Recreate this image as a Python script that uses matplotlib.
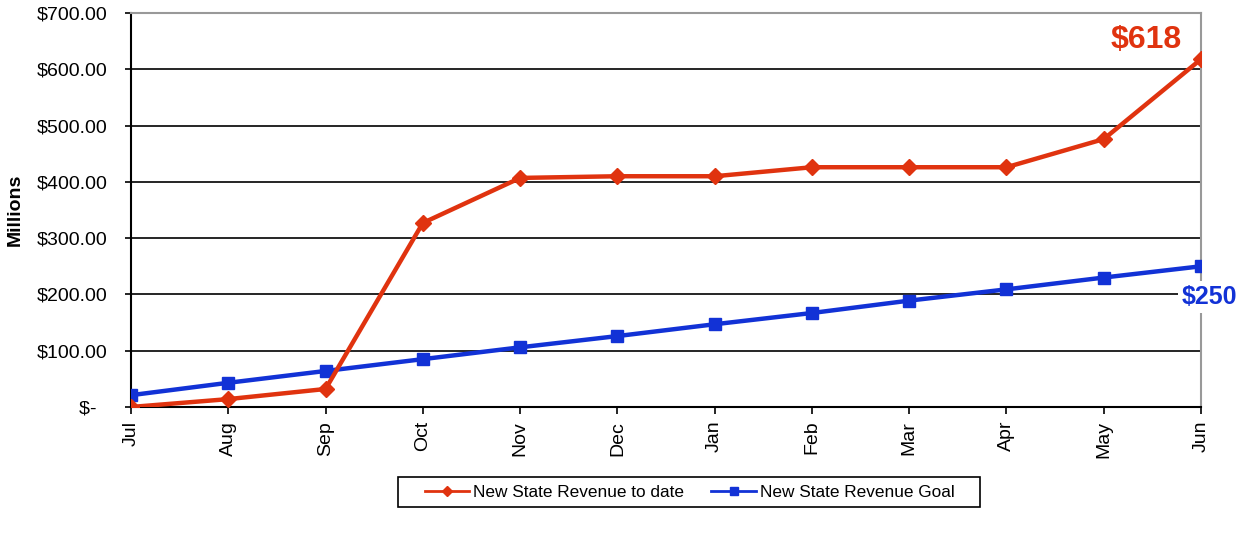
import matplotlib
matplotlib.use("Agg")
import matplotlib.pyplot as plt
from matplotlib.patches import Rectangle
from matplotlib.ticker import FuncFormatter

plt.rcParams["font.family"] = ["Liberation Sans", "DejaVu Sans"]

MONTHS = ["Jul", "Aug", "Sep", "Oct", "Nov", "Dec", "Jan", "Feb", "Mar", "Apr", "May", "Jun"]
REVENUE = [0, 14, 32, 327, 407, 410, 410, 426, 426, 426, 476, 618]
GOAL = [21, 43, 64, 85, 106, 126, 147, 167, 189, 209, 230, 250]

RED = "#E0330F"
BLUE = "#1232D6"


def money(v, _):
    # accounting style: zero shown as a dash, indented a bit
    return "$-  " if v == 0 else f"${v:,.2f}"


fig = plt.figure(figsize=(12.49, 5.36), dpi=100)
ax = fig.add_axes([0.1049, 0.2407, 0.8567, 0.735])

x = list(range(len(MONTHS)))
ax.plot(x, REVENUE, color=RED, lw=3.2, marker="D", ms=8, mec=RED,
        label="New State Revenue to date", zorder=4)
ax.plot(x, GOAL, color=BLUE, lw=3.2, marker="s", ms=8.5, mec=BLUE,
        label="New State Revenue Goal", zorder=3)

ax.set_xlim(0, len(MONTHS) - 1)
ax.set_ylim(0, 700)
ax.set_yticks(range(0, 701, 100))
ax.yaxis.set_major_formatter(FuncFormatter(money))
ax.set_xticks(x)
ax.set_xticklabels(MONTHS, rotation=90)
ax.tick_params(axis="both", labelsize=14, direction="out", width=1.2, color="black")
ax.tick_params(axis="y", length=4, pad=13)
ax.tick_params(axis="x", length=5, pad=5)
ax.grid(axis="y", color="black", lw=1.2, zorder=1)
ax.set_axisbelow(True)

for s in ("left", "bottom"):
    ax.spines[s].set_color("black")
    ax.spines[s].set_linewidth(1.5)
for s in ("top", "right"):
    ax.spines[s].set_color("#999999")
    ax.spines[s].set_linewidth(1.5)

ax.set_ylabel("Millions", fontsize=14, fontweight="bold")
ax.yaxis.set_label_coords(-0.1, 0.5)

ax.annotate(f"${REVENUE[-1]}", xy=(x[-1], REVENUE[-1]), xytext=(-14, 14),
            textcoords="offset points", ha="right", va="center",
            fontsize=23, fontweight="bold", color=RED)
ax.annotate(f"${GOAL[-1]}", xy=(x[-1], GOAL[-1]), xytext=(6, -22),
            textcoords="offset points", ha="center", va="center",
            fontsize=18, fontweight="bold", color=BLUE, zorder=6,
            bbox=dict(boxstyle="square,pad=0.15", fc="white", ec="none"),
            annotation_clip=False)

leg = fig.legend(loc="center", bbox_to_anchor=(0.552, 0.082), ncol=2,
                 fontsize=12.4, frameon=False,
                 handlelength=2.6, handletextpad=0.2, columnspacing=1.6,
                 markerscale=0.7)
for h in leg.legend_handles:
    h.set_linewidth(2)

# legend frame drawn separately, wider than the entries
fig.patches.append(Rectangle((0.3187, 0.0541), 0.466, 0.056, transform=fig.transFigure,
                             fill=False, edgecolor="black", linewidth=1.2))

fig.savefig("out.png", dpi=100)
